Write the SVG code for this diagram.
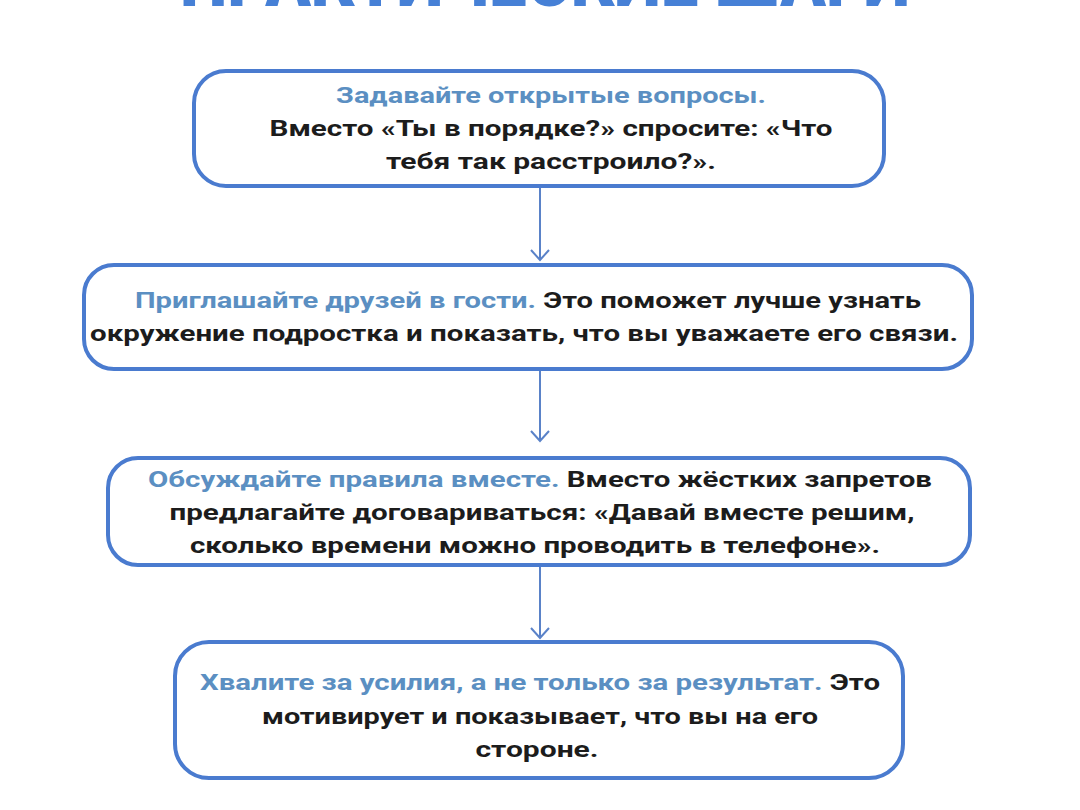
<svg xmlns="http://www.w3.org/2000/svg" width="1080" height="810" viewBox="0 0 1080 810">
<defs>
<style>
.box{fill:#ffffff;stroke:#4a7bcf;stroke-width:4}
.t{font-family:Roboto,"Liberation Sans",sans-serif;font-weight:700;font-size:22px;fill:#1c1c1c;text-anchor:middle}
.h{fill:#5b8fc2}
.title{font-family:Roboto,"Liberation Sans",sans-serif;font-weight:900;font-size:74px;fill:#4680d6;text-anchor:middle}
.conn{stroke:#5a82c8;stroke-width:2;fill:none}
</style>
<marker id="arr" viewBox="0 0 20 20" refX="18" refY="10" markerWidth="20" markerHeight="20" markerUnits="userSpaceOnUse" orient="auto">
<path d="M8,1 L18,10 L8,19" fill="none" stroke="#5a82c8" stroke-width="2"/>
</marker>
</defs>
<rect width="1080" height="810" fill="#ffffff"/>
<text class="title" x="545" y="6" textLength="730" lengthAdjust="spacingAndGlyphs">ПРАКТИЧЕСКИЕ ШАГИ</text>
<g id="connectors">
<line class="conn" x1="540" y1="188" x2="540" y2="260" marker-end="url(#arr)"/>
<line class="conn" x1="540" y1="371" x2="540" y2="441" marker-end="url(#arr)"/>
<line class="conn" x1="540" y1="567" x2="540" y2="638" marker-end="url(#arr)"/>
</g>
<g id="node1">
<rect class="box" x="194" y="71" width="690" height="115" rx="32"/>
<text class="t" x="551" y="103" textLength="430" lengthAdjust="spacingAndGlyphs"><tspan class="h">Задавайте открытые вопросы.</tspan></text>
<text class="t" x="551" y="136" textLength="563" lengthAdjust="spacingAndGlyphs">Вместо «Ты в порядке?» спросите: «Что</text>
<text class="t" x="551" y="169" textLength="330" lengthAdjust="spacingAndGlyphs">тебя так расстроило?».</text>
</g>
<g id="node2">
<rect class="box" x="84" y="265" width="888" height="104" rx="30"/>
<text class="t" x="528" y="308" textLength="786" lengthAdjust="spacingAndGlyphs"><tspan class="h">Приглашайте друзей в гости.</tspan> Это поможет лучше узнать</text>
<text class="t" x="524" y="341" textLength="868" lengthAdjust="spacingAndGlyphs">окружение подростка и показать, что вы уважаете его связи.</text>
</g>
<g id="node3">
<rect class="box" x="108" y="458" width="862" height="107" rx="30"/>
<text class="t" x="540" y="487" textLength="784" lengthAdjust="spacingAndGlyphs"><tspan class="h">Обсуждайте правила вместе.</tspan> Вместо жёстких запретов</text>
<text class="t" x="542" y="520" textLength="745" lengthAdjust="spacingAndGlyphs">предлагайте договариваться: «Давай вместе решим,</text>
<text class="t" x="535" y="553" textLength="690" lengthAdjust="spacingAndGlyphs">сколько времени можно проводить в телефоне».</text>
</g>
<g id="node4">
<rect class="box" x="175" y="642" width="728" height="136" rx="34"/>
<text class="t" x="540" y="690" textLength="680" lengthAdjust="spacingAndGlyphs"><tspan class="h">Хвалите за усилия, а не только за результат.</tspan> Это</text>
<text class="t" x="540" y="724" textLength="556" lengthAdjust="spacingAndGlyphs">мотивирует и показывает, что вы на его</text>
<text class="t" x="537" y="757" textLength="123" lengthAdjust="spacingAndGlyphs">стороне.</text>
</g>
</svg>
